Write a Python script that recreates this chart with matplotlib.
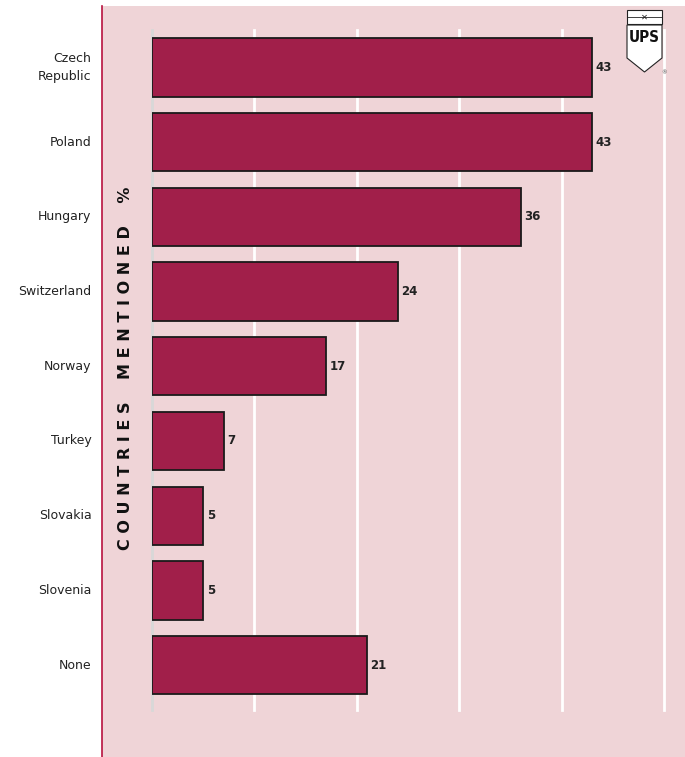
import matplotlib
matplotlib.use('Agg')
import matplotlib.pyplot as plt
from matplotlib.patches import Rectangle, Polygon

countries = ['Czech\nRepublic', 'Poland', 'Hungary', 'Switzerland', 'Norway',
             'Turkey', 'Slovakia', 'Slovenia', 'None']
values = [43, 43, 36, 24, 17, 7, 5, 5, 21]
grid_ticks = [0, 10, 20, 30, 40, 50]
ylabel = 'COUNTRIES MENTIONED %'

PINK = '#EFD4D7'
BAR = '#A11F4A'
RED = '#B8123F'

W, H = 685, 757
fig = plt.figure(figsize=(W / 100, H / 100), dpi=100)
fig.patch.set_facecolor('white')

# pink panel + red left rule
fig.patches.append(Rectangle((102 / W, 0), 1 - 102 / W, 1 - 6 / H,
                             transform=fig.transFigure, facecolor=PINK,
                             edgecolor='none', zorder=-5))
fig.lines.append(plt.Line2D([102 / W, 102 / W], [0, 1 - 6 / H],
                            transform=fig.transFigure, color=RED, lw=1.2,
                            zorder=-4))

ax = fig.add_axes([152 / W, 1 - 710 / H, (664 - 152) / W, (710 - 30) / H])
ax.set_facecolor('none')
ax.set_xlim(0, 50)
ax.set_ylim(8.6, -0.5)
for s in ax.spines.values():
    s.set_visible(False)
ax.set_xticks([])
ax.set_yticks([])
for t in grid_ticks:
    ax.axvline(t, color='#D8D8D8' if t == 0 else 'white', lw=2, zorder=1,
               clip_on=False)

ypos = list(range(len(countries)))
ax.barh(ypos, values, height=0.78, color=BAR, edgecolor='#1a1a1a',
        linewidth=1.3, zorder=2)
for y, v, c in zip(ypos, values, countries):
    ax.text(v + 0.35, y, str(v), va='center', ha='left', fontsize=8.5,
            fontweight='bold', color='#222222')
    ax.annotate(c, xy=(0, y), xytext=(-43.5, 0), textcoords='offset points',
                ha='right', va='center', fontsize=9, color='#222222',
                linespacing=1.5, annotation_clip=False)

fig.text(126 / W, 1 - 368 / H, ' '.join(ylabel).replace('   ', '    '),
         rotation=90, ha='center', va='center', fontsize=11.5,
         fontweight='heavy', color='#111111')

# UPS logo (simplified)
lx0, lx1 = 627, 662
def fx(x):
    return x / W
def fy(y):
    return 1 - y / H
fig.patches.append(Rectangle((fx(lx0), fy(24)), fx(lx1) - fx(lx0), fy(10) - fy(24),
                             transform=fig.transFigure, facecolor='white',
                             edgecolor='#222222', lw=0.8, zorder=5))
fig.lines.append(plt.Line2D([fx(lx0), fx(lx1)], [fy(17), fy(17)],
                            transform=fig.transFigure, color='#222222', lw=0.6, zorder=6))
fig.text(fx(644.5), fy(17), '✕', ha='center', va='center', fontsize=6,
         color='#222222', zorder=7)
shield = [(lx0, 25), (lx1, 25), (lx1, 58), (644.5, 72), (lx0, 58)]
fig.patches.append(Polygon([(fx(x), fy(y)) for x, y in shield],
                           transform=fig.transFigure, facecolor='white',
                           edgecolor='#222222', lw=0.8, zorder=5))
fig.text(fx(644.5), fy(38), 'UPS', ha='center', va='center', fontsize=11,
         fontweight='bold', color='#111111', zorder=7,
         fontstretch='condensed')
fig.text(fx(664), fy(73), '®', ha='center', va='center', fontsize=4,
         color='#444444', zorder=7)

fig.savefig('out.png', dpi=100, facecolor=fig.get_facecolor())
